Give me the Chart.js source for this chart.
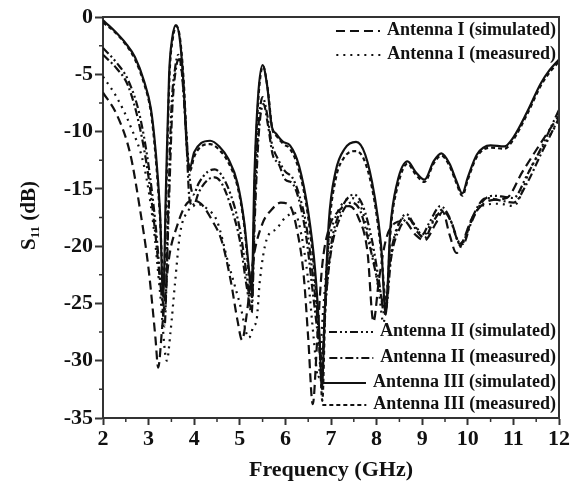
<!DOCTYPE html>
<html>
<head>
<meta charset="utf-8">
<script src="https://cdn.jsdelivr.net/npm/chart.js@4.4.1/dist/chart.umd.min.js"></script>
<style>
  html, body { margin: 0; padding: 0; background: #fff; }
</style>
</head>
<body>
<canvas id="s11Chart" width="571" height="486"></canvas>
<script>
// Ejes
const xTicks = [2, 3, 4, 5, 6, 7, 8, 9, 10, 11, 12];
const yTicks = [-35, -30, -25, -20, -15, -10, -5, 0];

// Antenna I (simulated)
const freqAntIsim = [2.0, 2.3, 2.6, 2.8, 3.0, 3.15, 3.21, 3.3, 3.45, 3.62, 3.8, 3.95, 4.15, 4.4, 4.6, 4.8, 4.95, 5.05, 5.15, 5.3, 5.5, 5.7, 5.9, 6.1, 6.25, 6.4, 6.5, 6.6, 6.7, 6.8, 6.95, 7.15, 7.4, 7.6, 7.8, 7.93, 8.05, 8.2, 8.4, 8.6, 8.85, 9.05, 9.3, 9.45, 9.6, 9.75, 9.9, 10.1, 10.5, 10.85, 11.2, 11.6, 12.0];
const s11AntIsim = [-6.6, -8.5, -12, -16.5, -22, -28, -30.6, -27, -21, -18.3, -16.5, -16.0, -16.3, -17.8, -19.5, -23, -26.5, -28.2, -26, -21, -18, -16.8, -16.2, -16.5, -18.5, -22.5, -28, -33.8, -28, -22, -18.5, -17, -16.5, -17.5, -20.5, -26.6, -23, -19.5, -18, -17.8, -19, -19.5, -18, -17, -19, -20.6, -19.5, -17.5, -16, -15.8, -13.5, -11, -8.6];

// Antenna I (measured)
const freqAntImeas = [2.0, 2.3, 2.6, 2.9, 3.1, 3.25, 3.4, 3.48, 3.58, 3.69, 3.87, 4.05, 4.3, 4.5, 4.75, 5.0, 5.2, 5.3, 5.37, 5.44, 5.59, 5.8, 6.0, 6.2, 6.35, 6.5, 6.62, 6.72, 6.82, 6.95, 7.15, 7.45, 7.65, 7.85, 8.05, 8.15, 8.25, 8.4, 8.65, 8.9, 9.0, 9.2, 9.45, 9.65, 9.85, 10.0, 10.3, 10.7, 11.0, 11.4, 11.7, 12.0];
const s11AntImeas = [-5.2, -7, -9.5, -13, -18, -24, -30, -27.5, -23.2, -18.9, -16.9, -16.3, -16.8, -17.8, -21.5, -25, -28, -27, -26.4, -23, -19.4, -18.5, -17.5, -17.1, -19, -23, -28, -31.5, -26, -20, -17, -15.8, -16.5, -19.5, -24, -26.7, -23, -19, -17.5, -18.5, -19.2, -18, -16.8, -18, -20, -18.5, -16.5, -16.3, -16.5, -13, -11, -9];

// Antenna II (simulated)
const freqAntIIsim = [2.0, 2.3, 2.55, 2.8, 3.0, 3.15, 3.28, 3.35, 3.42, 3.5, 3.58, 3.65, 3.72, 3.8, 3.9, 3.98, 4.1, 4.3, 4.45, 4.6, 4.8, 5.0, 5.15, 5.25, 5.32, 5.4, 5.5, 5.6, 5.7, 5.85, 6.0, 6.15, 6.3, 6.45, 6.6, 6.72, 6.8, 6.88, 7.0, 7.2, 7.5, 7.7, 7.9, 8.05, 8.18, 8.3, 8.45, 8.65, 8.85, 9.0, 9.15, 9.4, 9.6, 9.78, 9.9, 10.05, 10.3, 10.55, 10.8, 11.0, 11.3, 11.6, 12.0];
const s11AntIIsim = [-2.7, -4, -5.5, -8.5, -13, -18, -24, -27, -18, -8, -4.5, -3.3, -4.5, -8.5, -14, -15.5, -14.5, -13.5, -13.3, -13.8, -15.5, -18.5, -22.5, -25.5, -17, -10, -7, -8.5, -11, -12.5, -13.5, -14, -15.5, -18, -22.5, -27, -30, -25, -20, -17, -15.5, -16.5, -19.5, -23, -26, -21, -18.5, -17.2, -18.3, -19, -18, -16.5, -17.5, -19.5, -19.8, -18.2, -16.2, -15.6, -15.7, -15.8, -13.8, -11.5, -8.1];

// Antenna II (measured)
const freqAntIImeas = [2.0, 2.3, 2.55, 2.8, 3.0, 3.15, 3.28, 3.36, 3.44, 3.52, 3.6, 3.66, 3.74, 3.82, 3.9, 3.98, 4.1, 4.3, 4.45, 4.6, 4.8, 5.0, 5.15, 5.26, 5.33, 5.42, 5.52, 5.62, 5.72, 5.85, 6.0, 6.15, 6.3, 6.45, 6.6, 6.72, 6.8, 6.88, 7.0, 7.2, 7.45, 7.65, 7.85, 8.05, 8.2, 8.32, 8.5, 8.7, 8.9, 9.05, 9.25, 9.45, 9.65, 9.82, 9.95, 10.1, 10.4, 10.7, 11.0, 11.3, 11.6, 12.0];
const s11AntIImeas = [-3.3, -4.5, -6, -9.5, -14, -19, -24, -25.5, -17, -8, -4.5, -3.7, -5.2, -10, -16, -16.5, -15.3, -14.2, -14.0, -14.5, -16.5, -19.5, -23.5, -25.8, -17.5, -10, -7.6, -9.5, -12, -12.8, -14.2, -14.5, -16, -19, -24, -28, -30.5, -25, -20.5, -17.5, -16.2, -17, -20, -23.5, -25.5, -21, -18.5, -17.6, -18.8, -19.3, -17.8, -16.9, -18, -19.8, -19.2, -17.5, -15.8, -16, -16.2, -14.5, -12, -8.8];

// Antenna III (simulated)
const freqAntIIIsim = [2.0, 2.2, 2.5, 2.7, 2.9, 3.05, 3.15, 3.25, 3.32, 3.38, 3.45, 3.52, 3.6, 3.68, 3.76, 3.84, 3.9, 4.0, 4.15, 4.35, 4.55, 4.75, 4.95, 5.1, 5.2, 5.26, 5.32, 5.4, 5.5, 5.6, 5.7, 5.8, 5.95, 6.1, 6.3, 6.5, 6.65, 6.75, 6.8, 6.86, 6.95, 7.1, 7.3, 7.55, 7.75, 7.95, 8.1, 8.2, 8.3, 8.45, 8.68, 8.85, 9.05, 9.25, 9.42, 9.6, 9.75, 9.88, 10.0, 10.2, 10.5, 10.8, 11.0, 11.3, 11.6, 11.8, 12.0];
const s11AntIIIsim = [-0.3, -1.0, -2.3, -3.5, -5.6, -8, -11.5, -17, -24.5, -15, -5, -1.8, -0.7, -1.8, -5.5, -11.5, -13.2, -11.8, -11.0, -10.8, -11.3, -12.4, -14.5, -18, -22, -24, -14, -7, -4.2, -6, -9.5, -10.2, -10.9, -11.2, -13, -17, -22, -28, -32.5, -26, -18, -13.5, -11.5, -10.9, -12, -15.5, -20, -26, -18.5, -14.5, -12.6, -13.5, -14.2, -12.6, -11.9, -12.8, -14.3, -15.4, -14, -12, -11.2, -11.3, -10.5, -8.3, -5.8, -4.6, -3.7];

// Antenna III (measured)
const freqAntIIImeas = [2.0, 2.2, 2.5, 2.7, 2.9, 3.05, 3.15, 3.25, 3.33, 3.39, 3.46, 3.53, 3.61, 3.69, 3.77, 3.85, 3.91, 4.0, 4.15, 4.35, 4.55, 4.75, 4.95, 5.1, 5.2, 5.27, 5.33, 5.41, 5.51, 5.61, 5.71, 5.81, 5.96, 6.1, 6.3, 6.5, 6.65, 6.75, 6.81, 6.87, 6.96, 7.1, 7.3, 7.55, 7.75, 7.95, 8.1, 8.21, 8.31, 8.46, 8.68, 8.85, 9.05, 9.25, 9.42, 9.6, 9.75, 9.88, 10.0, 10.2, 10.5, 10.8, 11.0, 11.3, 11.6, 11.8, 12.0];
const s11AntIIImeas = [-0.5, -1.1, -2.4, -3.7, -5.8, -8.3, -12, -17.5, -23.5, -15, -5, -1.9, -0.8, -1.9, -5.6, -11.8, -13.4, -12.2, -11.3, -11.1, -11.6, -12.7, -14.8, -18.3, -22.5, -24.5, -14, -7, -4.3, -6.2, -9.7, -10.4, -11.1, -11.5, -13.4, -17.5, -23, -29, -33.5, -26, -18.5, -14.2, -12.2, -11.7, -12.7, -16, -20.5, -25, -18.5, -14.8, -12.8, -13.7, -14.4, -12.8, -12.1, -13, -14.5, -15.6, -14.2, -12.2, -11.4, -11.5, -10.7, -8.5, -6, -4.8, -3.9];

const ink = '#111';
const axisColor = '#333';
const serif = '"Liberation Serif", "Times New Roman", serif';

function puntos(fs, vs) {
  return fs.map((f, i) => ({ x: f, y: vs[i] }));
}

const series = [
  { label: 'Antenna I (simulated)',   f: freqAntIsim,   v: s11AntIsim,   dash: [9, 5] },
  { label: 'Antenna I (measured)',    f: freqAntImeas,  v: s11AntImeas,  dash: [2, 5] },
  { label: 'Antenna II (simulated)',  f: freqAntIIsim,  v: s11AntIIsim,  dash: [8, 3, 2, 3, 2, 3] },
  { label: 'Antenna II (measured)',   f: freqAntIImeas, v: s11AntIImeas, dash: [8, 3, 2, 3] },
  { label: 'Antenna III (measured)',  f: freqAntIIImeas, v: s11AntIIImeas, dash: [4, 3] },
  { label: 'Antenna III (simulated)', f: freqAntIIIsim, v: s11AntIIIsim, dash: [] }
];

// Leyenda en dos grupos, dibujada a mano
const legendRows = [
  { label: 'Antenna I (simulated)', y: 30 },
  { label: 'Antenna I (measured)', y: 54 },
  { label: 'Antenna II (simulated)', y: 331 },
  { label: 'Antenna II (measured)', y: 357 },
  { label: 'Antenna III (simulated)', y: 382 },
  { label: 'Antenna III (measured)', y: 404 }
];

const framePlugin = {
  id: 'frame',
  afterDraw(chart) {
    const ctx = chart.ctx;
    const a = chart.chartArea;
    const xs = chart.scales.x, ys = chart.scales.y;
    ctx.save();
    ctx.strokeStyle = axisColor;
    ctx.lineWidth = 2;
    ctx.beginPath();
    ctx.moveTo(a.left, a.top); ctx.lineTo(a.right, a.top); ctx.lineTo(a.right, a.bottom);
    ctx.stroke();
    // ticks menores
    ctx.lineWidth = 1.5;
    ctx.beginPath();
    for (let v = 2.5; v < 12; v += 1) {
      const px = xs.getPixelForValue(v);
      ctx.moveTo(px, a.bottom); ctx.lineTo(px, a.bottom + 4);
    }
    for (let v = -32.5; v < 0; v += 5) {
      const py = ys.getPixelForValue(v);
      ctx.moveTo(a.left, py); ctx.lineTo(a.left - 4, py);
    }
    ctx.stroke();

    // título eje Y con subíndice
    ctx.fillStyle = ink;
    ctx.translate(30, (a.top + a.bottom) / 2 - 2);
    ctx.rotate(-Math.PI / 2);
    const big = 'bold 21px ' + serif, small = 'bold 13px ' + serif;
    ctx.font = big; const wS = ctx.measureText('S').width; const wR = ctx.measureText(' (dB)').width;
    ctx.font = small; const wSub = ctx.measureText('11').width;
    let x0 = -(wS + wSub + wR) / 2;
    ctx.textBaseline = 'middle';
    ctx.textAlign = 'left';
    ctx.font = big; ctx.fillText('S', x0, 0);
    ctx.font = small; ctx.fillText('11', x0 + wS, 6);
    ctx.font = big; ctx.fillText(' (dB)', x0 + wS + wSub, 0);
    ctx.restore();

    // leyenda
    ctx.save();
    ctx.font = 'bold 18px ' + serif;
    ctx.textAlign = 'right';
    ctx.textBaseline = 'middle';
    ctx.fillStyle = ink;
    legendRows.forEach(row => {
      const s = series.find(d => d.label === row.label);
      const w = ctx.measureText(row.label).width;
      const xEnd = 556;
      ctx.fillText(row.label, xEnd, row.y);
      const lx1 = xEnd - w - 7, lx0 = lx1 - 44;
      ctx.strokeStyle = ink;
      ctx.lineWidth = 2;
      ctx.setLineDash(s.dash);
      ctx.beginPath();
      ctx.moveTo(lx0, row.y + 1); ctx.lineTo(lx1, row.y + 1);
      ctx.stroke();
    });
    ctx.restore();
  }
};

const ctx = document.getElementById('s11Chart').getContext('2d');
const s11Chart = new Chart(ctx, {
  type: 'line',
  data: {
    datasets: series.map(s => ({
      label: s.label,
      data: puntos(s.f, s.v),
      borderColor: ink,
      borderWidth: 2.2,
      borderDash: s.dash,
      pointRadius: 0,
      fill: false,
      cubicInterpolationMode: 'monotone'
    }))
  },
  options: {
    responsive: false,
    animation: false,
    layout: { padding: { top: 17, right: 12, left: 0, bottom: 0 } },
    plugins: { legend: { display: false }, tooltip: { enabled: false } },
    scales: {
      x: {
        type: 'linear',
        min: 2, max: 12,
        afterBuildTicks: s => { s.ticks = xTicks.map(v => ({ value: v })); },
        afterFit: s => { s.height = 68; },
        grid: { drawOnChartArea: false, tickLength: 7, tickWidth: 2, color: axisColor },
        border: { display: true, width: 2, color: axisColor },
        ticks: { autoSkip: false, maxRotation: 0, padding: 1, color: ink, font: { family: serif, size: 22, weight: 'bold' } },
        title: { display: true, text: 'Frequency (GHz)', color: ink, padding: { top: 2, bottom: 2 }, font: { family: serif, size: 22, weight: 'bold' } }
      },
      y: {
        min: -35, max: 0,
        afterBuildTicks: s => { s.ticks = yTicks.map(v => ({ value: v })); },
        afterFit: s => { s.width = 103; },
        grid: { drawOnChartArea: false, tickLength: 8, tickWidth: 2, color: axisColor },
        border: { display: true, width: 2, color: axisColor },
        ticks: { padding: 2, color: ink, font: { family: serif, size: 22, weight: 'bold' } }
      }
    }
  },
  plugins: [framePlugin]
});
</script>
</body>
</html>
